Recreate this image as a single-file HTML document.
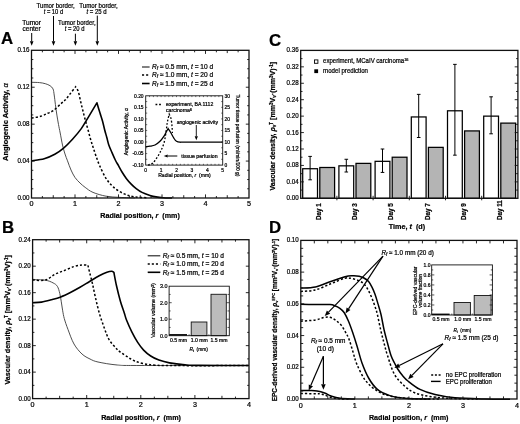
<!DOCTYPE html>
<html><head><meta charset="utf-8"><style>
html,body{margin:0;padding:0;background:#fff;}
svg{display:block; will-change:transform;}
text{font-family:"Liberation Sans", sans-serif; fill:#000; stroke:#000; stroke-width:0.22px;}
</style></head><body>
<svg width="520" height="424" viewBox="0 0 520 424">
<rect width="520" height="424" fill="#fff"/>
<path d="M31.50,82.30 C32.82,82.35 37.10,82.37 39.40,82.60 C41.70,82.83 43.53,83.18 45.30,83.70 C47.07,84.22 48.72,84.83 50.00,85.70 C51.28,86.57 52.30,87.35 53.00,88.90 C53.70,90.45 53.80,92.40 54.20,95.00 C54.60,97.60 54.95,101.15 55.40,104.50 C55.85,107.85 56.38,111.77 56.90,115.10 C57.42,118.43 57.95,121.52 58.50,124.50 C59.05,127.48 59.53,129.58 60.20,133.00 C60.87,136.42 61.70,141.50 62.50,145.00 C63.30,148.50 64.17,151.37 65.00,154.00 C65.83,156.63 66.50,158.13 67.50,160.80 C68.50,163.47 69.75,167.22 71.00,170.00 C72.25,172.78 73.50,175.33 75.00,177.50 C76.50,179.67 78.30,181.35 80.00,183.00 C81.70,184.65 83.03,185.83 85.20,187.40 C87.37,188.97 89.53,190.93 93.00,192.40 C96.47,193.87 101.50,195.37 106.00,196.20 C110.50,197.03 115.17,197.12 120.00,197.40 C124.83,197.68 132.50,197.82 135.00,197.90" fill="none" stroke="#3a3a3a" stroke-width="0.9"/>
<path d="M31.50,118.10 C33.02,117.80 37.90,117.10 40.60,116.30 C43.30,115.50 45.53,114.28 47.70,113.30 C49.87,112.32 51.43,111.97 53.60,110.40 C55.77,108.83 58.73,105.67 60.70,103.90 C62.67,102.13 63.83,101.47 65.40,99.80 C66.97,98.13 68.40,96.07 70.10,93.90 C71.80,91.73 74.68,87.98 75.60,86.80  C76.05,87.58 77.48,89.13 78.30,91.50 C79.12,93.87 79.78,98.00 80.50,101.00 C81.22,104.00 81.85,106.50 82.60,109.50 C83.35,112.50 84.13,115.75 85.00,119.00 C85.87,122.25 86.88,125.67 87.80,129.00 C88.72,132.33 89.63,136.00 90.50,139.00 C91.37,142.00 92.08,144.17 93.00,147.00 C93.92,149.83 94.92,152.95 96.00,156.00 C97.08,159.05 97.83,161.58 99.50,165.30 C101.17,169.02 103.62,174.62 106.00,178.30 C108.38,181.98 110.77,184.80 113.80,187.40 C116.83,190.00 120.75,192.33 124.20,193.90 C127.65,195.47 130.53,196.15 134.50,196.80 C138.47,197.45 145.75,197.63 148.00,197.80" fill="none" stroke="#000" stroke-width="1.5" stroke-dasharray="2.2 2"/>
<path d="M31.50,160.80 C33.62,160.45 40.32,159.78 44.20,158.70 C48.08,157.62 51.57,156.07 54.80,154.30 C58.03,152.53 60.65,150.62 63.60,148.10 C66.55,145.58 69.55,142.45 72.50,139.20 C75.45,135.95 78.65,132.28 81.30,128.60 C83.95,124.92 85.80,121.40 88.40,117.10 C91.00,112.80 95.48,105.18 96.90,102.80  C97.42,104.58 99.07,109.98 100.00,113.00 C100.93,116.02 101.72,118.17 102.50,121.00 C103.28,123.83 103.98,127.25 104.70,130.00 C105.42,132.75 106.12,135.00 106.80,137.50 C107.48,140.00 107.93,142.48 108.80,145.00 C109.67,147.52 110.92,150.10 112.00,152.60 C113.08,155.10 114.22,157.82 115.30,160.00 C116.38,162.18 117.38,163.70 118.50,165.70 C119.62,167.70 120.70,169.88 122.00,172.00 C123.30,174.12 124.77,176.38 126.30,178.40 C127.83,180.42 129.55,182.40 131.20,184.10 C132.85,185.80 134.40,187.22 136.20,188.60 C138.00,189.98 139.70,191.27 142.00,192.40 C144.30,193.53 147.67,194.65 150.00,195.40 C152.33,196.15 153.83,196.52 156.00,196.90 C158.17,197.28 160.33,197.52 163.00,197.70 C165.67,197.88 170.50,197.95 172.00,198.00" fill="none" stroke="#000" stroke-width="1.6" stroke-linejoin="round"/>
<rect x="31.5" y="50.3" width="217.5" height="147.7" fill="none" stroke="#111" stroke-width="1.3"/>
<path d="M42.38,198.0 v-2.0 M64.12,198.0 v-2.0 M85.88,198.0 v-2.0 M107.62,198.0 v-2.0 M129.38,198.0 v-2.0 M151.12,198.0 v-2.0 M172.88,198.0 v-2.0 M194.62,198.0 v-2.0 M216.38,198.0 v-2.0 M238.12,198.0 v-2.0" stroke="#111" stroke-width="0.9" fill="none"/>
<path d="M42.38,50.3 v2.0 M64.12,50.3 v2.0 M85.88,50.3 v2.0 M107.62,50.3 v2.0 M129.38,50.3 v2.0 M151.12,50.3 v2.0 M172.88,50.3 v2.0 M194.62,50.3 v2.0 M216.38,50.3 v2.0 M238.12,50.3 v2.0" stroke="#111" stroke-width="0.9" fill="none"/>
<path d="M53.25,198.0 v-2.8 M96.75,198.0 v-2.8 M140.25,198.0 v-2.8 M183.75,198.0 v-2.8 M227.25,198.0 v-2.8" stroke="#111" stroke-width="0.9" fill="none"/>
<path d="M53.25,50.3 v2.8 M96.75,50.3 v2.8 M140.25,50.3 v2.8 M183.75,50.3 v2.8 M227.25,50.3 v2.8" stroke="#111" stroke-width="0.9" fill="none"/>
<path d="M75.00,198.0 v-3.6 M118.50,198.0 v-3.6 M162.00,198.0 v-3.6 M205.50,198.0 v-3.6" stroke="#111" stroke-width="0.9" fill="none"/>
<path d="M75.00,50.3 v3.6 M118.50,50.3 v3.6 M162.00,50.3 v3.6 M205.50,50.3 v3.6" stroke="#111" stroke-width="0.9" fill="none"/>
<path d="M31.5,188.77 h1.8 M31.5,179.54 h1.8 M31.5,170.31 h1.8 M31.5,151.84 h1.8 M31.5,142.61 h1.8 M31.5,133.38 h1.8 M31.5,114.92 h1.8 M31.5,105.69 h1.8 M31.5,96.46 h1.8 M31.5,77.99 h1.8 M31.5,68.76 h1.8 M31.5,59.53 h1.8" stroke="#111" stroke-width="0.9" fill="none"/>
<path d="M31.5,161.07 h3.2 M31.5,124.15 h3.2 M31.5,87.23 h3.2" stroke="#111" stroke-width="0.9" fill="none"/>
<path d="M249.0,188.77 h-1.8 M249.0,179.54 h-1.8 M249.0,170.31 h-1.8 M249.0,151.84 h-1.8 M249.0,142.61 h-1.8 M249.0,133.38 h-1.8 M249.0,114.92 h-1.8 M249.0,105.69 h-1.8 M249.0,96.46 h-1.8 M249.0,77.99 h-1.8 M249.0,68.76 h-1.8 M249.0,59.53 h-1.8" stroke="#111" stroke-width="0.9" fill="none"/>
<path d="M249.0,161.07 h-3.2 M249.0,124.15 h-3.2 M249.0,87.23 h-3.2" stroke="#111" stroke-width="0.9" fill="none"/>
<text x="29.5" y="200.0" font-size="7" text-anchor="end" font-weight="normal"  textLength="12.1" lengthAdjust="spacingAndGlyphs">0.00</text>
<text x="29.5" y="163.075" font-size="7" text-anchor="end" font-weight="normal"  textLength="12.1" lengthAdjust="spacingAndGlyphs">0.04</text>
<text x="29.5" y="126.15" font-size="7" text-anchor="end" font-weight="normal"  textLength="12.1" lengthAdjust="spacingAndGlyphs">0.08</text>
<text x="29.5" y="89.22500000000002" font-size="7" text-anchor="end" font-weight="normal"  textLength="12.1" lengthAdjust="spacingAndGlyphs">0.12</text>
<text x="29.5" y="52.30000000000001" font-size="7" text-anchor="end" font-weight="normal"  textLength="12.1" lengthAdjust="spacingAndGlyphs">0.16</text>
<text x="31.5" y="205.9" font-size="7.2" text-anchor="middle" font-weight="normal" >0</text>
<text x="75.0" y="205.9" font-size="7.2" text-anchor="middle" font-weight="normal" >1</text>
<text x="118.5" y="205.9" font-size="7.2" text-anchor="middle" font-weight="normal" >2</text>
<text x="162.0" y="205.9" font-size="7.2" text-anchor="middle" font-weight="normal" >3</text>
<text x="205.5" y="205.9" font-size="7.2" text-anchor="middle" font-weight="normal" >4</text>
<text x="249.0" y="205.9" font-size="7.2" text-anchor="middle" font-weight="normal" >5</text>
<text x="140.05" y="217.6" font-size="8.1" text-anchor="middle" font-weight="bold"  textLength="79.5" lengthAdjust="spacingAndGlyphs">Radial position, <tspan font-style="italic">r</tspan>&#160; (mm)</text>
<text x="8.0" y="122.15" font-size="7.6" text-anchor="middle" font-weight="bold" transform="rotate(-90 8.0 122.15)"  textLength="77.7" lengthAdjust="spacingAndGlyphs">Angiogenic Activity, <tspan font-weight="normal" font-style="italic">α</tspan></text>
<path d="M142,67 H149.6" stroke="#1a1a1a" stroke-width="1.1"/>
<text x="152" y="69.2" font-size="6.6" text-anchor="start" font-weight="normal" ><tspan font-style="italic">R</tspan><tspan font-size="4.6" dy="1.2" font-style="italic">f</tspan><tspan dy="-1.2"> ≈ 0.5 mm, </tspan><tspan font-style="italic">t</tspan> = 10 d</text>
<path d="M142,75 H149.6" stroke="#000" stroke-width="1.5" stroke-dasharray="2.1 2"/>
<text x="152" y="77.2" font-size="6.6" text-anchor="start" font-weight="normal" ><tspan font-style="italic">R</tspan><tspan font-size="4.6" dy="1.2" font-style="italic">f</tspan><tspan dy="-1.2"> ≈ 1.0 mm, </tspan><tspan font-style="italic">t</tspan> = 20 d</text>
<path d="M142,83.5 H149.6" stroke="#000" stroke-width="1.6"/>
<text x="152" y="85.7" font-size="6.6" text-anchor="start" font-weight="normal" ><tspan font-style="italic">R</tspan><tspan font-size="4.6" dy="1.2" font-style="italic">f</tspan><tspan dy="-1.2"> ≈ 1.5 mm, </tspan><tspan font-style="italic">t</tspan> = 25 d</text>
<text x="31.6" y="25.1" font-size="6.5" text-anchor="middle" font-weight="normal" >Tumor</text>
<text x="31.6" y="30.6" font-size="6.5" text-anchor="middle" font-weight="normal" >center</text>
<path d="M31.70,33.00 L31.70,41.30" stroke="#000" stroke-width="1.0" fill="none"/>
<path d="M31.70,45.80 L29.90,41.30 L33.50,41.30 Z" fill="#000"/>
<text x="55.6" y="7.8" font-size="6.5" text-anchor="middle" font-weight="normal"  textLength="38.2" lengthAdjust="spacingAndGlyphs">Tumor border,</text>
<text x="53.4" y="13.6" font-size="6.5" text-anchor="middle" font-weight="normal"  textLength="19.4" lengthAdjust="spacingAndGlyphs"><tspan font-style="italic">t</tspan> = 10 d</text>
<path d="M53.50,16.00 L53.50,41.30" stroke="#000" stroke-width="1.0" fill="none"/>
<path d="M53.50,45.80 L51.70,41.30 L55.30,41.30 Z" fill="#000"/>
<text x="76.8" y="25.2" font-size="6.5" text-anchor="middle" font-weight="normal"  textLength="37.6" lengthAdjust="spacingAndGlyphs">Tumor border,</text>
<text x="74.6" y="31.2" font-size="6.5" text-anchor="middle" font-weight="normal"  textLength="19.6" lengthAdjust="spacingAndGlyphs"><tspan font-style="italic">t</tspan> = 20 d</text>
<path d="M75.40,33.70 L75.40,41.30" stroke="#000" stroke-width="1.0" fill="none"/>
<path d="M75.40,45.80 L73.60,41.30 L77.20,41.30 Z" fill="#000"/>
<text x="98.5" y="8.1" font-size="6.5" text-anchor="middle" font-weight="normal"  textLength="38.5" lengthAdjust="spacingAndGlyphs">Tumor border,</text>
<text x="96.6" y="13.7" font-size="6.5" text-anchor="middle" font-weight="normal"  textLength="20.2" lengthAdjust="spacingAndGlyphs"><tspan font-style="italic">t</tspan> = 25 d</text>
<path d="M97.30,15.60 L97.30,41.30" stroke="#000" stroke-width="1.0" fill="none"/>
<path d="M97.30,45.80 L95.50,41.30 L99.10,41.30 Z" fill="#000"/>
<text x="1" y="44.4" font-size="16.8" text-anchor="start" font-weight="bold" >A</text>
<rect x="145.7" y="95.8" width="77.0" height="69.3" fill="#fff"/>
<path d="M145.70,146.60 C146.42,146.53 148.45,146.47 150.00,146.20 C151.55,145.93 153.33,145.82 155.00,145.00 C156.67,144.18 158.50,142.77 160.00,141.30 C161.50,139.83 162.92,137.83 164.00,136.20 C165.08,134.57 165.82,132.77 166.50,131.50 C167.18,130.23 167.83,129.08 168.10,128.60  C168.58,129.33 170.02,131.37 171.00,133.00 C171.98,134.63 173.08,137.02 174.00,138.40 C174.92,139.78 175.50,140.67 176.50,141.30 C177.50,141.93 178.58,142.07 180.00,142.20 C181.42,142.33 177.88,142.12 185.00,142.10 C192.12,142.08 216.42,142.10 222.70,142.10" fill="none" stroke="#000" stroke-width="1.3"/>
<path d="M148.00,165.00 C148.50,164.92 149.83,165.25 151.00,164.50 C152.17,163.75 153.50,162.50 155.00,160.50 C156.50,158.50 158.50,155.42 160.00,152.50 C161.50,149.58 163.00,146.42 164.00,143.00 C165.00,139.58 165.43,135.50 166.00,132.00 C166.57,128.50 166.87,124.97 167.40,122.00 C167.93,119.03 168.90,115.50 169.20,114.20  C169.50,114.92 170.53,116.53 171.00,118.50 C171.47,120.47 171.77,123.58 172.00,126.00 C172.23,128.42 172.33,131.83 172.40,133.00" fill="none" stroke="#000" stroke-width="1.3" stroke-dasharray="1.8 1.8"/>
<rect x="145.7" y="95.8" width="77.0" height="69.3" fill="none" stroke="#111" stroke-width="0.9"/>
<path d="M149.55,165.1 v-1.3 M153.40,165.1 v-1.3 M157.25,165.1 v-1.3 M161.10,165.1 v-1.3 M164.95,165.1 v-1.3 M168.80,165.1 v-1.3 M172.65,165.1 v-1.3 M176.50,165.1 v-1.3 M180.35,165.1 v-1.3 M184.20,165.1 v-1.3 M188.05,165.1 v-1.3 M191.90,165.1 v-1.3 M195.75,165.1 v-1.3 M199.60,165.1 v-1.3 M203.45,165.1 v-1.3 M207.30,165.1 v-1.3 M211.15,165.1 v-1.3 M215.00,165.1 v-1.3 M218.85,165.1 v-1.3" stroke="#111" stroke-width="0.6" fill="none"/>
<path d="M149.55,95.8 v1.3 M153.40,95.8 v1.3 M157.25,95.8 v1.3 M161.10,95.8 v1.3 M164.95,95.8 v1.3 M168.80,95.8 v1.3 M172.65,95.8 v1.3 M176.50,95.8 v1.3 M180.35,95.8 v1.3 M184.20,95.8 v1.3 M188.05,95.8 v1.3 M191.90,95.8 v1.3 M195.75,95.8 v1.3 M199.60,95.8 v1.3 M203.45,95.8 v1.3 M207.30,95.8 v1.3 M211.15,95.8 v1.3 M215.00,95.8 v1.3 M218.85,95.8 v1.3" stroke="#111" stroke-width="0.6" fill="none"/>
<path d="M145.7,159.32 h1.5 M145.7,153.55 h1.5 M145.7,147.77 h1.5 M145.7,142.00 h1.5 M145.7,136.22 h1.5 M145.7,130.45 h1.5 M145.7,124.67 h1.5 M145.7,118.90 h1.5 M145.7,113.12 h1.5 M145.7,107.35 h1.5 M145.7,101.57 h1.5" stroke="#111" stroke-width="0.6" fill="none"/>
<path d="M222.7,159.32 h-1.5 M222.7,153.55 h-1.5 M222.7,147.77 h-1.5 M222.7,142.00 h-1.5 M222.7,136.22 h-1.5 M222.7,130.45 h-1.5 M222.7,124.67 h-1.5 M222.7,118.90 h-1.5 M222.7,113.12 h-1.5 M222.7,107.35 h-1.5 M222.7,101.57 h-1.5" stroke="#111" stroke-width="0.6" fill="none"/>
<text x="143.6" y="166.79999999999998" font-size="4.9" text-anchor="end" font-weight="normal" >-0.10</text>
<text x="143.6" y="155.24999999999997" font-size="4.9" text-anchor="end" font-weight="normal" >-0.05</text>
<text x="143.6" y="143.7" font-size="4.9" text-anchor="end" font-weight="normal" >0.00</text>
<text x="143.6" y="132.14999999999998" font-size="4.9" text-anchor="end" font-weight="normal" >0.05</text>
<text x="143.6" y="120.6" font-size="4.9" text-anchor="end" font-weight="normal" >0.10</text>
<text x="143.6" y="109.05" font-size="4.9" text-anchor="end" font-weight="normal" >0.15</text>
<text x="143.6" y="97.49999999999999" font-size="4.9" text-anchor="end" font-weight="normal" >0.20</text>
<text x="224.6" y="166.79999999999998" font-size="4.9" text-anchor="start" font-weight="normal" >0</text>
<text x="224.6" y="155.24999999999997" font-size="4.9" text-anchor="start" font-weight="normal" >5</text>
<text x="224.6" y="143.7" font-size="4.9" text-anchor="start" font-weight="normal" >10</text>
<text x="224.6" y="132.14999999999998" font-size="4.9" text-anchor="start" font-weight="normal" >15</text>
<text x="224.6" y="120.6" font-size="4.9" text-anchor="start" font-weight="normal" >20</text>
<text x="224.6" y="109.05" font-size="4.9" text-anchor="start" font-weight="normal" >25</text>
<text x="224.6" y="97.49999999999999" font-size="4.9" text-anchor="start" font-weight="normal" >30</text>
<text x="145.7" y="171.9" font-size="4.9" text-anchor="middle" font-weight="normal" >0</text>
<text x="161.1" y="171.9" font-size="4.9" text-anchor="middle" font-weight="normal" >1</text>
<text x="176.5" y="171.9" font-size="4.9" text-anchor="middle" font-weight="normal" >2</text>
<text x="191.89999999999998" y="171.9" font-size="4.9" text-anchor="middle" font-weight="normal" >3</text>
<text x="207.29999999999998" y="171.9" font-size="4.9" text-anchor="middle" font-weight="normal" >4</text>
<text x="222.7" y="171.9" font-size="4.9" text-anchor="middle" font-weight="normal" >5</text>
<text x="184.5" y="177.2" font-size="5.1" text-anchor="middle" font-weight="normal" >Radial position, <tspan font-style="italic">r</tspan>&#160; (mm)</text>
<text x="128" y="131.7" font-size="4.9" text-anchor="middle" font-weight="normal" transform="rotate(-90 128 131.7)"  textLength="47" lengthAdjust="spacingAndGlyphs">Angiogenic Activity, <tspan font-style="italic">α</tspan></text>
<text x="236.4" y="135.4" font-size="5.1" text-anchor="middle" font-weight="normal" transform="rotate(90 236.4 135.4)"  textLength="81.8" lengthAdjust="spacingAndGlyphs">Tumor tissue perfusion (ml/min/100 g)</text>
<path d="M155.5,104.5 H162.5" stroke="#000" stroke-width="1.3" stroke-dasharray="1.8 1.8"/>
<text x="166" y="106.3" font-size="5.2" text-anchor="start" font-weight="normal" >experiment, BA 1112</text>
<text x="166" y="112.3" font-size="5.2" text-anchor="start" font-weight="normal" >carcinoma<tspan font-size="3.6" dy="-1.8">6</tspan></text>
<text x="176.7" y="124.1" font-size="5.05" text-anchor="start" font-weight="normal" >angiogenic activity</text>
<path d="M196.30,125.00 L196.30,136.20" stroke="#000" stroke-width="0.9" fill="none"/>
<path d="M196.30,140.20 L194.70,136.20 L197.90,136.20 Z" fill="#000"/>
<path d="M177.30,156.00 L167.70,156.00" stroke="#000" stroke-width="1.0" fill="none"/>
<path d="M163.70,156.00 L167.70,154.40 L167.70,157.60 Z" fill="#000"/>
<text x="181.3" y="157.9" font-size="5.2" text-anchor="start" font-weight="normal" >tissue perfusion</text>
<path d="M32.60,279.60 C34.73,279.70 41.98,279.65 45.40,280.20 C48.82,280.75 51.10,281.87 53.10,282.90 C55.10,283.93 56.28,284.63 57.40,286.40 C58.52,288.17 59.17,291.03 59.80,293.50 C60.43,295.97 60.72,298.32 61.20,301.20 C61.68,304.08 62.18,307.90 62.70,310.80 C63.22,313.70 63.42,315.48 64.30,318.60 C65.18,321.72 66.38,325.27 68.00,329.50 C69.62,333.73 71.67,339.92 74.00,344.00 C76.33,348.08 79.33,351.50 82.00,354.00 C84.67,356.50 87.33,357.67 90.00,359.00 C92.67,360.33 93.45,361.00 98.00,362.00 C102.55,363.00 110.30,364.42 117.30,365.00 C124.30,365.58 118.05,365.42 140.00,365.50 C161.95,365.58 230.83,365.50 249.00,365.50" fill="none" stroke="#3a3a3a" stroke-width="0.9"/>
<path d="M32.60,280.00 C34.73,280.00 41.67,280.97 45.40,280.00 C49.13,279.03 51.80,275.80 55.00,274.20 C58.20,272.60 61.40,271.68 64.60,270.40 C67.80,269.12 71.32,267.40 74.20,266.50 C77.08,265.60 79.62,265.22 81.90,265.00 C84.18,264.78 86.90,265.17 87.90,265.20 C88.18,266.38 88.83,269.20 89.60,272.30 C90.37,275.40 91.53,279.63 92.50,283.80 C93.47,287.97 94.28,292.48 95.40,297.30 C96.52,302.12 97.72,307.58 99.20,312.70 C100.68,317.82 102.67,323.53 104.30,328.00 C105.93,332.47 107.15,336.25 109.00,339.50 C110.85,342.75 113.57,345.45 115.40,347.50 C117.23,349.55 118.05,350.28 120.00,351.80 C121.95,353.32 124.73,355.12 127.10,356.60 C129.47,358.08 131.45,359.53 134.20,360.70 C136.95,361.87 140.07,362.85 143.60,363.60 C147.13,364.35 150.17,364.87 155.40,365.20 C160.63,365.53 159.40,365.53 175.00,365.60 C190.60,365.67 236.67,365.60 249.00,365.60" fill="none" stroke="#000" stroke-width="1.5" stroke-dasharray="2.2 2"/>
<path d="M32.60,302.70 C34.08,302.60 38.40,302.58 41.50,302.10 C44.60,301.62 47.98,300.67 51.20,299.80 C54.42,298.93 57.60,298.12 60.80,296.90 C64.00,295.68 67.20,294.10 70.40,292.50 C73.60,290.90 76.80,289.13 80.00,287.30 C83.20,285.47 86.40,283.42 89.60,281.50 C92.80,279.58 96.32,277.33 99.20,275.80 C102.08,274.27 104.82,273.05 106.90,272.30 C108.98,271.55 110.53,271.27 111.70,271.30 C112.87,271.33 113.53,272.30 113.90,272.50 C114.33,274.72 115.42,281.02 116.50,285.80 C117.58,290.58 119.12,296.72 120.40,301.20 C121.68,305.68 123.18,309.57 124.20,312.70 C125.22,315.83 125.23,316.82 126.50,320.00 C127.77,323.18 129.93,328.07 131.80,331.80 C133.67,335.53 135.73,339.35 137.70,342.40 C139.67,345.45 141.43,347.83 143.60,350.10 C145.77,352.37 148.15,354.33 150.70,356.00 C153.25,357.67 155.77,358.95 158.90,360.10 C162.03,361.25 165.15,362.12 169.50,362.90 C173.85,363.68 179.92,364.38 185.00,364.80 C190.08,365.22 189.33,365.28 200.00,365.40 C210.67,365.52 240.83,365.48 249.00,365.50" fill="none" stroke="#000" stroke-width="1.6"/>
<rect x="32.6" y="239.7" width="216.4" height="158.90000000000003" fill="none" stroke="#111" stroke-width="1.3"/>
<path d="M46.12,398.6 v-2.0 M73.18,398.6 v-2.0 M100.22,398.6 v-2.0 M127.28,398.6 v-2.0 M154.33,398.6 v-2.0 M181.38,398.6 v-2.0 M208.43,398.6 v-2.0 M235.47,398.6 v-2.0" stroke="#111" stroke-width="0.9" fill="none"/>
<path d="M46.12,239.7 v2.0 M73.18,239.7 v2.0 M100.22,239.7 v2.0 M127.28,239.7 v2.0 M154.33,239.7 v2.0 M181.38,239.7 v2.0 M208.43,239.7 v2.0 M235.47,239.7 v2.0" stroke="#111" stroke-width="0.9" fill="none"/>
<path d="M59.65,398.6 v-2.8 M113.75,398.6 v-2.8 M167.85,398.6 v-2.8 M221.95,398.6 v-2.8" stroke="#111" stroke-width="0.9" fill="none"/>
<path d="M59.65,239.7 v2.8 M113.75,239.7 v2.8 M167.85,239.7 v2.8 M221.95,239.7 v2.8" stroke="#111" stroke-width="0.9" fill="none"/>
<path d="M86.70,398.6 v-3.6 M140.80,398.6 v-3.6 M194.90,398.6 v-3.6" stroke="#111" stroke-width="0.9" fill="none"/>
<path d="M86.70,239.7 v3.6 M140.80,239.7 v3.6 M194.90,239.7 v3.6" stroke="#111" stroke-width="0.9" fill="none"/>
<path d="M32.6,385.36 h1.8 M32.6,358.88 h1.8 M32.6,332.39 h1.8 M32.6,305.91 h1.8 M32.6,279.43 h1.8 M32.6,252.94 h1.8" stroke="#111" stroke-width="0.9" fill="none"/>
<path d="M32.6,372.12 h3.2 M32.6,345.63 h3.2 M32.6,319.15 h3.2 M32.6,292.67 h3.2 M32.6,266.18 h3.2" stroke="#111" stroke-width="0.9" fill="none"/>
<path d="M249.0,385.36 h-1.8 M249.0,358.88 h-1.8 M249.0,332.39 h-1.8 M249.0,305.91 h-1.8 M249.0,279.43 h-1.8 M249.0,252.94 h-1.8" stroke="#111" stroke-width="0.9" fill="none"/>
<path d="M249.0,372.12 h-3.2 M249.0,345.63 h-3.2 M249.0,319.15 h-3.2 M249.0,292.67 h-3.2 M249.0,266.18 h-3.2" stroke="#111" stroke-width="0.9" fill="none"/>
<text x="30.6" y="400.6" font-size="7" text-anchor="end" font-weight="normal"  textLength="12.1" lengthAdjust="spacingAndGlyphs">0.00</text>
<text x="30.6" y="374.1166666666667" font-size="7" text-anchor="end" font-weight="normal"  textLength="12.1" lengthAdjust="spacingAndGlyphs">0.04</text>
<text x="30.6" y="347.6333333333333" font-size="7" text-anchor="end" font-weight="normal"  textLength="12.1" lengthAdjust="spacingAndGlyphs">0.08</text>
<text x="30.6" y="321.15" font-size="7" text-anchor="end" font-weight="normal"  textLength="12.1" lengthAdjust="spacingAndGlyphs">0.12</text>
<text x="30.6" y="294.66666666666663" font-size="7" text-anchor="end" font-weight="normal"  textLength="12.1" lengthAdjust="spacingAndGlyphs">0.16</text>
<text x="30.6" y="268.1833333333333" font-size="7" text-anchor="end" font-weight="normal"  textLength="12.1" lengthAdjust="spacingAndGlyphs">0.20</text>
<text x="30.6" y="241.7" font-size="7" text-anchor="end" font-weight="normal"  textLength="12.1" lengthAdjust="spacingAndGlyphs">0.24</text>
<text x="32.6" y="407.2" font-size="7.2" text-anchor="middle" font-weight="normal" >0</text>
<text x="86.7" y="407.2" font-size="7.2" text-anchor="middle" font-weight="normal" >1</text>
<text x="140.8" y="407.2" font-size="7.2" text-anchor="middle" font-weight="normal" >2</text>
<text x="194.9" y="407.2" font-size="7.2" text-anchor="middle" font-weight="normal" >3</text>
<text x="249.0" y="407.2" font-size="7.2" text-anchor="middle" font-weight="normal" >4</text>
<text x="141.1" y="420.0" font-size="8.1" text-anchor="middle" font-weight="bold"  textLength="79.8" lengthAdjust="spacingAndGlyphs">Radial position, <tspan font-style="italic">r</tspan>&#160; (mm)</text>
<text x="10.2" y="319.85" font-size="7.3" text-anchor="middle" font-weight="bold" transform="rotate(-90 10.2 319.85)"  textLength="129.5" lengthAdjust="spacingAndGlyphs">Vascular density, <tspan font-style="italic">ρ</tspan><tspan font-size="4.5" dy="1.2">v</tspan><tspan font-size="4.5" dy="-3">T</tspan><tspan dy="1.8"> [mm</tspan><tspan font-size="4.5" dy="-2">3</tspan><tspan dy="2">V</tspan><tspan font-size="4.5" dy="1.2">v</tspan><tspan dy="-1.2">·(mm</tspan><tspan font-size="4.5" dy="-2">3</tspan><tspan dy="2">V)</tspan><tspan font-size="4.5" dy="-2">-1</tspan><tspan dy="2">]</tspan></text>
<text x="2" y="233.2" font-size="16.8" text-anchor="start" font-weight="bold" >B</text>
<path d="M147.7,255.8 H160.3" stroke="#1a1a1a" stroke-width="1.1"/>
<text x="162.8" y="258.0" font-size="6.6" text-anchor="start" font-weight="normal" ><tspan font-style="italic">R</tspan><tspan font-size="4.6" dy="1.2" font-style="italic">f</tspan><tspan dy="-1.2"> ≈ 0.5 mm, </tspan><tspan font-style="italic">t</tspan> = 10 d</text>
<path d="M147.7,264 H160.3" stroke="#000" stroke-width="1.5" stroke-dasharray="2.1 2"/>
<text x="162.8" y="266.2" font-size="6.6" text-anchor="start" font-weight="normal" ><tspan font-style="italic">R</tspan><tspan font-size="4.6" dy="1.2" font-style="italic">f</tspan><tspan dy="-1.2"> ≈ 1.0 mm, </tspan><tspan font-style="italic">t</tspan> = 20 d</text>
<path d="M147.7,272.3 H160.3" stroke="#000" stroke-width="1.6"/>
<text x="162.8" y="274.5" font-size="6.6" text-anchor="start" font-weight="normal" ><tspan font-style="italic">R</tspan><tspan font-size="4.6" dy="1.2" font-style="italic">f</tspan><tspan dy="-1.2"> ≈ 1.5 mm, </tspan><tspan font-style="italic">t</tspan> = 25 d</text>
<rect x="169.1" y="286.2" width="60.20000000000002" height="49.5" fill="#fff"/>
<rect x="169.1" y="334.10" width="17.90" height="1.6" fill="#000"/>
<rect x="191.2" y="322.00" width="15.7" height="13.69" fill="#bcbcbc" stroke="#111" stroke-width="0.9"/>
<rect x="211" y="294.28" width="15.3" height="41.42" fill="#bcbcbc" stroke="#111" stroke-width="0.9"/>
<rect x="169.1" y="286.2" width="60.20000000000002" height="49.5" fill="none" stroke="#111" stroke-width="0.9"/>
<path d="M169.1,327.45 h1.5 M169.1,310.95 h1.5 M169.1,294.45 h1.5" stroke="#111" stroke-width="0.7" fill="none"/>
<path d="M229.3,327.45 h-1.8 M229.3,310.95 h-1.8 M229.3,294.45 h-1.8" stroke="#111" stroke-width="0.7" fill="none"/>
<path d="M169.1,319.20 h2.6 M169.1,302.70 h2.6" stroke="#111" stroke-width="0.7" fill="none"/>
<path d="M229.3,319.20 h-2.8 M229.3,302.70 h-2.8" stroke="#111" stroke-width="0.7" fill="none"/>
<path d="M189.10,335.7 v-1.5 M208.90,335.7 v-1.5" stroke="#111" stroke-width="0.6" fill="none"/>
<text x="167.6" y="337.59999999999997" font-size="5.4" text-anchor="end" font-weight="normal" >0.0</text>
<text x="167.6" y="321.09999999999997" font-size="5.4" text-anchor="end" font-weight="normal" >1.0</text>
<text x="167.6" y="304.59999999999997" font-size="5.4" text-anchor="end" font-weight="normal" >2.0</text>
<text x="167.6" y="288.09999999999997" font-size="5.4" text-anchor="end" font-weight="normal" >3.0</text>
<text x="178.4" y="342.0" font-size="5.1" text-anchor="middle" font-weight="normal" >0.5 mm</text>
<text x="199.2" y="342.0" font-size="5.1" text-anchor="middle" font-weight="normal" >1.0 mm</text>
<text x="219" y="342.0" font-size="5.1" text-anchor="middle" font-weight="normal" >1.5 mm</text>
<text x="198.7" y="351.4" font-size="5.1" text-anchor="middle" font-weight="normal"  textLength="18.6" lengthAdjust="spacingAndGlyphs"><tspan font-style="italic">R</tspan><tspan font-size="3.6" dy="1">t</tspan><tspan dy="-1">&#160; (mm)</tspan></text>
<text x="155" y="310.5" font-size="5.3" text-anchor="middle" font-weight="normal" transform="rotate(-90 155 310.5)" >Vascular volume (mm<tspan font-size="3.6" dy="-1.5">3</tspan><tspan dy="1.5">)</tspan></text>
<rect x="302.70" y="168.72" width="14.8" height="29.58" fill="#fff" stroke="#000" stroke-width="1.25"/>
<rect x="319.80" y="167.49" width="14.8" height="30.81" fill="#b4b4b4" stroke="#000" stroke-width="1.25"/>
<path d="M310.10,156.40 V179.81 M308.30,156.40 h3.6 M308.30,179.81 h3.6" stroke="#000" stroke-width="1.0" fill="none"/>
<rect x="338.90" y="165.84" width="14.8" height="32.46" fill="#fff" stroke="#000" stroke-width="1.25"/>
<rect x="356.00" y="163.38" width="14.8" height="34.92" fill="#b4b4b4" stroke="#000" stroke-width="1.25"/>
<path d="M346.30,159.27 V172.01 M344.50,159.27 h3.6 M344.50,172.01 h3.6" stroke="#000" stroke-width="1.0" fill="none"/>
<rect x="375.10" y="161.33" width="14.8" height="36.97" fill="#fff" stroke="#000" stroke-width="1.25"/>
<rect x="392.20" y="157.22" width="14.8" height="41.08" fill="#b4b4b4" stroke="#000" stroke-width="1.25"/>
<path d="M382.50,149.00 V172.42 M380.70,149.00 h3.6 M380.70,172.42 h3.6" stroke="#000" stroke-width="1.0" fill="none"/>
<rect x="411.30" y="116.95" width="14.8" height="81.35" fill="#fff" stroke="#000" stroke-width="1.25"/>
<rect x="428.40" y="147.36" width="14.8" height="50.94" fill="#b4b4b4" stroke="#000" stroke-width="1.25"/>
<path d="M418.70,94.36 V137.50 M416.90,94.36 h3.6 M416.90,137.50 h3.6" stroke="#000" stroke-width="1.0" fill="none"/>
<rect x="447.50" y="110.79" width="14.8" height="87.51" fill="#fff" stroke="#000" stroke-width="1.25"/>
<rect x="464.60" y="130.92" width="14.8" height="67.38" fill="#b4b4b4" stroke="#000" stroke-width="1.25"/>
<path d="M454.90,64.37 V155.16 M453.10,64.37 h3.6 M453.10,155.16 h3.6" stroke="#000" stroke-width="1.0" fill="none"/>
<rect x="483.70" y="116.13" width="14.8" height="82.17" fill="#fff" stroke="#000" stroke-width="1.25"/>
<rect x="500.80" y="123.12" width="14.8" height="75.18" fill="#b4b4b4" stroke="#000" stroke-width="1.25"/>
<path d="M491.10,96.82 V133.80 M489.30,96.82 h3.6 M489.30,133.80 h3.6" stroke="#000" stroke-width="1.0" fill="none"/>
<rect x="300.7" y="50.4" width="217.2" height="147.9" fill="none" stroke="#111" stroke-width="1.3"/>
<path d="M300.7,190.08 h1.8 M300.7,173.65 h1.8 M300.7,157.22 h1.8 M300.7,140.78 h1.8 M300.7,124.35 h1.8 M300.7,107.92 h1.8 M300.7,91.48 h1.8 M300.7,75.05 h1.8 M300.7,58.62 h1.8" stroke="#111" stroke-width="0.9" fill="none"/>
<path d="M300.7,181.87 h3.2 M300.7,165.43 h3.2 M300.7,149.00 h3.2 M300.7,132.57 h3.2 M300.7,116.13 h3.2 M300.7,99.70 h3.2 M300.7,83.27 h3.2 M300.7,66.83 h3.2" stroke="#111" stroke-width="0.9" fill="none"/>
<path d="M517.9,190.08 h-1.8 M517.9,173.65 h-1.8 M517.9,157.22 h-1.8 M517.9,140.78 h-1.8 M517.9,124.35 h-1.8 M517.9,107.92 h-1.8 M517.9,91.48 h-1.8 M517.9,75.05 h-1.8 M517.9,58.62 h-1.8" stroke="#111" stroke-width="0.9" fill="none"/>
<path d="M517.9,181.87 h-3.2 M517.9,165.43 h-3.2 M517.9,149.00 h-3.2 M517.9,132.57 h-3.2 M517.9,116.13 h-3.2 M517.9,99.70 h-3.2 M517.9,83.27 h-3.2 M517.9,66.83 h-3.2" stroke="#111" stroke-width="0.9" fill="none"/>
<path d="M336.90,200.3 v-4.5 M373.10,200.3 v-4.5 M409.30,200.3 v-4.5 M445.50,200.3 v-4.5 M481.70,200.3 v-4.5" stroke="#111" stroke-width="0.9" fill="none"/>
<text x="298.6" y="200.3" font-size="7" text-anchor="end" font-weight="normal"  textLength="12.1" lengthAdjust="spacingAndGlyphs">0.00</text>
<text x="298.6" y="183.86666666666667" font-size="7" text-anchor="end" font-weight="normal"  textLength="12.1" lengthAdjust="spacingAndGlyphs">0.04</text>
<text x="298.6" y="167.43333333333334" font-size="7" text-anchor="end" font-weight="normal"  textLength="12.1" lengthAdjust="spacingAndGlyphs">0.08</text>
<text x="298.6" y="151.0" font-size="7" text-anchor="end" font-weight="normal"  textLength="12.1" lengthAdjust="spacingAndGlyphs">0.12</text>
<text x="298.6" y="134.56666666666666" font-size="7" text-anchor="end" font-weight="normal"  textLength="12.1" lengthAdjust="spacingAndGlyphs">0.16</text>
<text x="298.6" y="118.13333333333334" font-size="7" text-anchor="end" font-weight="normal"  textLength="12.1" lengthAdjust="spacingAndGlyphs">0.20</text>
<text x="298.6" y="101.7" font-size="7" text-anchor="end" font-weight="normal"  textLength="12.1" lengthAdjust="spacingAndGlyphs">0.24</text>
<text x="298.6" y="85.26666666666665" font-size="7" text-anchor="end" font-weight="normal"  textLength="12.1" lengthAdjust="spacingAndGlyphs">0.28</text>
<text x="298.6" y="68.83333333333334" font-size="7" text-anchor="end" font-weight="normal"  textLength="12.1" lengthAdjust="spacingAndGlyphs">0.32</text>
<text x="298.6" y="52.400000000000006" font-size="7" text-anchor="end" font-weight="normal"  textLength="12.1" lengthAdjust="spacingAndGlyphs">0.36</text>
<text x="321.0" y="220.1" font-size="6.3" text-anchor="start" font-weight="bold" transform="rotate(-90 321.0 220.1)" >Day 1</text>
<text x="357.2" y="220.1" font-size="6.3" text-anchor="start" font-weight="bold" transform="rotate(-90 357.2 220.1)" >Day 3</text>
<text x="393.4" y="220.1" font-size="6.3" text-anchor="start" font-weight="bold" transform="rotate(-90 393.4 220.1)" >Day 5</text>
<text x="429.59999999999997" y="220.1" font-size="6.3" text-anchor="start" font-weight="bold" transform="rotate(-90 429.59999999999997 220.1)" >Day 7</text>
<text x="465.79999999999995" y="220.1" font-size="6.3" text-anchor="start" font-weight="bold" transform="rotate(-90 465.79999999999995 220.1)" >Day 9</text>
<text x="501.99999999999994" y="220.1" font-size="6.3" text-anchor="start" font-weight="bold" transform="rotate(-90 501.99999999999994 220.1)" >Day 11</text>
<text x="407" y="229.1" font-size="7.6" text-anchor="middle" font-weight="bold"  textLength="36.4" lengthAdjust="spacingAndGlyphs">Time, <tspan font-style="italic">t</tspan>&#160; (d)</text>
<text x="275" y="126.25" font-size="7.0" text-anchor="middle" font-weight="bold" transform="rotate(-90 275 126.25)"  textLength="128.7" lengthAdjust="spacingAndGlyphs">Vascular density, <tspan font-style="italic">ρ</tspan><tspan font-size="4.5" dy="1.2">v</tspan><tspan font-size="4.5" dy="-3">T</tspan><tspan dy="1.8"> [mm</tspan><tspan font-size="4.5" dy="-2">3</tspan><tspan dy="2">V</tspan><tspan font-size="4.5" dy="1.2">v</tspan><tspan dy="-1.2">·(mm</tspan><tspan font-size="4.5" dy="-2">3</tspan><tspan dy="2">V)</tspan><tspan font-size="4.5" dy="-2">-1</tspan><tspan dy="2">]</tspan></text>
<text x="269" y="45.6" font-size="16.8" text-anchor="start" font-weight="bold" >C</text>
<rect x="314.5" y="59.9" width="3.4" height="3.4" fill="#fff" stroke="#000" stroke-width="0.9"/>
<rect x="314.3" y="69.3" width="3.8" height="3.8" fill="#000"/>
<text x="323.1" y="63.3" font-size="6.6" text-anchor="start" font-weight="normal"  textLength="85.4" lengthAdjust="spacingAndGlyphs">experiment, MCaIV carcinoma<tspan font-size="4.3" dy="-2.2">16</tspan></text>
<text x="323.1" y="72.9" font-size="6.6" text-anchor="start" font-weight="normal"  textLength="44.9" lengthAdjust="spacingAndGlyphs">model prediction</text>
<path d="M300.80,288.00 C303.23,287.82 310.40,287.98 315.40,286.90 C320.40,285.82 325.87,283.18 330.80,281.50 C335.73,279.82 341.45,277.75 345.00,276.80 C348.55,275.85 349.73,275.90 352.10,275.80 C354.47,275.70 357.23,275.83 359.20,276.20 C361.17,276.57 362.33,277.12 363.90,278.00 C365.47,278.88 367.23,279.93 368.60,281.50 C369.97,283.07 371.02,285.23 372.10,287.40 C373.18,289.57 374.12,291.75 375.10,294.50 C376.08,297.25 377.02,300.57 378.00,303.90 C378.98,307.23 379.98,310.15 381.00,314.50 C382.02,318.85 383.02,325.25 384.10,330.00 C385.18,334.75 386.35,338.75 387.50,343.00 C388.65,347.25 389.83,352.17 391.00,355.50 C392.17,358.83 393.38,360.75 394.50,363.00 C395.62,365.25 396.37,366.92 397.70,369.00 C399.03,371.08 400.80,373.50 402.50,375.50 C404.20,377.50 404.98,378.68 407.90,381.00 C410.82,383.32 415.48,387.15 420.00,389.40 C424.52,391.65 429.17,393.10 435.00,394.50 C440.83,395.90 446.67,397.05 455.00,397.80 C463.33,398.55 475.83,398.77 485.00,399.00 C494.17,399.23 505.83,399.17 510.00,399.20" fill="none" stroke="#000" stroke-width="1.5"/>
<path d="M300.80,304.30 C303.17,304.33 310.97,304.45 315.00,304.50 C319.03,304.55 322.50,304.58 325.00,304.60 C327.50,304.62 328.47,304.45 330.00,304.60 C331.53,304.75 332.55,304.88 334.20,305.50 C335.85,306.12 338.25,307.13 339.90,308.30 C341.55,309.47 342.68,310.38 344.10,312.50 C345.52,314.62 346.98,317.70 348.40,321.00 C349.82,324.30 351.17,328.13 352.60,332.30 C354.03,336.47 355.43,340.88 357.00,346.00 C358.57,351.12 360.02,357.58 362.00,363.00 C363.98,368.42 366.33,374.10 368.90,378.50 C371.47,382.90 374.02,386.58 377.40,389.40 C380.78,392.22 384.68,393.93 389.20,395.40 C393.72,396.87 397.70,397.58 404.50,398.20 C411.30,398.82 425.75,398.95 430.00,399.10" fill="none" stroke="#000" stroke-width="1.5"/>
<path d="M300.80,390.40 C302.33,390.42 307.30,390.40 310.00,390.50 C312.70,390.60 314.57,390.58 317.00,391.00 C319.43,391.42 322.27,392.17 324.60,393.00 C326.93,393.83 328.43,395.12 331.00,396.00 C333.57,396.88 336.00,397.80 340.00,398.30 C344.00,398.80 352.50,398.88 355.00,399.00" fill="none" stroke="#000" stroke-width="1.5"/>
<path d="M300.80,291.50 C303.17,291.25 310.00,291.28 315.00,290.00 C320.00,288.72 325.80,285.77 330.80,283.80 C335.80,281.83 341.45,279.07 345.00,278.20 C348.55,277.33 349.73,278.15 352.10,278.60 C354.47,279.05 357.23,280.02 359.20,280.90 C361.17,281.78 362.53,282.62 363.90,283.90 C365.27,285.18 366.32,286.83 367.40,288.60 C368.48,290.37 369.42,292.33 370.40,294.50 C371.38,296.67 372.42,299.25 373.30,301.60 C374.18,303.95 375.02,306.45 375.70,308.60 C376.38,310.75 376.57,310.93 377.40,314.50 C378.23,318.07 379.60,325.25 380.70,330.00 C381.80,334.75 382.87,338.75 384.00,343.00 C385.13,347.25 385.78,350.32 387.50,355.50 C389.22,360.68 391.47,369.02 394.30,374.10 C397.13,379.18 401.10,382.88 404.50,386.00 C407.90,389.12 410.45,391.05 414.70,392.80 C418.95,394.55 424.12,395.57 430.00,396.50 C435.88,397.43 441.67,397.97 450.00,398.40 C458.33,398.83 475.00,398.98 480.00,399.10" fill="none" stroke="#000" stroke-width="1.5" stroke-dasharray="2.2 2"/>
<path d="M300.80,321.20 C303.27,320.98 311.73,320.52 315.60,319.90 C319.47,319.28 321.60,317.93 324.00,317.50 C326.40,317.07 328.05,316.83 330.00,317.30 C331.95,317.77 333.82,318.97 335.70,320.30 C337.58,321.63 339.65,323.30 341.30,325.30 C342.95,327.30 344.30,329.95 345.60,332.30 C346.90,334.65 347.87,336.12 349.10,339.40 C350.33,342.68 351.68,347.82 353.00,352.00 C354.32,356.18 354.92,359.75 357.00,364.50 C359.08,369.25 362.10,376.07 365.50,380.50 C368.90,384.93 373.15,388.48 377.40,391.10 C381.65,393.72 385.57,394.97 391.00,396.20 C396.43,397.43 401.83,398.02 410.00,398.50 C418.17,398.98 435.00,399.00 440.00,399.10" fill="none" stroke="#000" stroke-width="1.5" stroke-dasharray="2.2 2"/>
<path d="M300.80,393.60 C303.17,393.62 311.47,393.60 315.00,393.70 C318.53,393.80 319.33,393.58 322.00,394.20 C324.67,394.82 328.00,396.63 331.00,397.40 C334.00,398.17 336.83,398.53 340.00,398.80 C343.17,399.07 348.33,398.97 350.00,399.00" fill="none" stroke="#000" stroke-width="1.5" stroke-dasharray="2.2 2"/>
<rect x="300.8" y="240.4" width="216.2" height="158.6" fill="none" stroke="#111" stroke-width="1.3"/>
<path d="M314.31,399.0 v-2.6 M327.82,399.0 v-2.6 M341.34,399.0 v-2.6 M354.85,399.0 v-2.6 M368.36,399.0 v-2.6 M381.88,399.0 v-2.6 M395.39,399.0 v-2.6 M408.90,399.0 v-2.6 M422.41,399.0 v-2.6 M435.93,399.0 v-2.6 M449.44,399.0 v-2.6 M462.95,399.0 v-2.6 M476.46,399.0 v-2.6 M489.98,399.0 v-2.6 M503.49,399.0 v-2.6" stroke="#111" stroke-width="0.9" fill="none"/>
<path d="M314.31,240.4 v3.0 M327.82,240.4 v3.0 M341.34,240.4 v3.0 M354.85,240.4 v3.0 M368.36,240.4 v3.0 M381.88,240.4 v3.0 M395.39,240.4 v3.0 M408.90,240.4 v3.0 M422.41,240.4 v3.0 M435.93,240.4 v3.0 M449.44,240.4 v3.0 M462.95,240.4 v3.0 M476.46,240.4 v3.0 M489.98,240.4 v3.0 M503.49,240.4 v3.0" stroke="#111" stroke-width="0.9" fill="none"/>
<path d="M300.8,391.07 h2.4 M300.8,383.14 h2.4 M300.8,375.21 h2.4 M300.8,359.35 h2.4 M300.8,351.42 h2.4 M300.8,343.49 h2.4 M300.8,327.63 h2.4 M300.8,319.70 h2.4 M300.8,311.77 h2.4 M300.8,295.91 h2.4 M300.8,287.98 h2.4 M300.8,280.05 h2.4 M300.8,264.19 h2.4 M300.8,256.26 h2.4 M300.8,248.33 h2.4" stroke="#111" stroke-width="0.9" fill="none"/>
<path d="M300.8,367.28 h3.4 M300.8,335.56 h3.4 M300.8,303.84 h3.4 M300.8,272.12 h3.4" stroke="#111" stroke-width="0.9" fill="none"/>
<path d="M517.0,391.07 h-2.6 M517.0,383.14 h-2.6 M517.0,375.21 h-2.6 M517.0,359.35 h-2.6 M517.0,351.42 h-2.6 M517.0,343.49 h-2.6 M517.0,327.63 h-2.6 M517.0,319.70 h-2.6 M517.0,311.77 h-2.6 M517.0,295.91 h-2.6 M517.0,287.98 h-2.6 M517.0,280.05 h-2.6 M517.0,264.19 h-2.6 M517.0,256.26 h-2.6 M517.0,248.33 h-2.6" stroke="#111" stroke-width="0.9" fill="none"/>
<path d="M517.0,367.28 h-3.4 M517.0,335.56 h-3.4 M517.0,303.84 h-3.4 M517.0,272.12 h-3.4" stroke="#111" stroke-width="0.9" fill="none"/>
<text x="298.8" y="401.0" font-size="7" text-anchor="end" font-weight="normal"  textLength="12.1" lengthAdjust="spacingAndGlyphs">0.00</text>
<text x="298.8" y="369.28" font-size="7" text-anchor="end" font-weight="normal"  textLength="12.1" lengthAdjust="spacingAndGlyphs">0.02</text>
<text x="298.8" y="337.56" font-size="7" text-anchor="end" font-weight="normal"  textLength="12.1" lengthAdjust="spacingAndGlyphs">0.04</text>
<text x="298.8" y="305.84000000000003" font-size="7" text-anchor="end" font-weight="normal"  textLength="12.1" lengthAdjust="spacingAndGlyphs">0.06</text>
<text x="298.8" y="274.12" font-size="7" text-anchor="end" font-weight="normal"  textLength="12.1" lengthAdjust="spacingAndGlyphs">0.08</text>
<text x="298.8" y="242.4" font-size="7" text-anchor="end" font-weight="normal"  textLength="12.1" lengthAdjust="spacingAndGlyphs">0.10</text>
<text x="300.8" y="407.9" font-size="7.2" text-anchor="middle" font-weight="normal" >0</text>
<text x="354.85" y="407.9" font-size="7.2" text-anchor="middle" font-weight="normal" >1</text>
<text x="408.9" y="407.9" font-size="7.2" text-anchor="middle" font-weight="normal" >2</text>
<text x="462.95" y="407.9" font-size="7.2" text-anchor="middle" font-weight="normal" >3</text>
<text x="517.0" y="407.9" font-size="7.2" text-anchor="middle" font-weight="normal" >4</text>
<text x="408.7" y="420.2" font-size="8.1" text-anchor="middle" font-weight="bold"  textLength="79.6" lengthAdjust="spacingAndGlyphs">Radial position, <tspan font-style="italic">r</tspan>&#160; (mm)</text>
<text x="277.5" y="320.1" font-size="6.6" text-anchor="middle" font-weight="bold" transform="rotate(-90 277.5 320.1)"  textLength="162.4" lengthAdjust="spacingAndGlyphs">EPC-derived vascular density, <tspan font-style="italic">ρ</tspan><tspan font-size="3.8" dy="1">v</tspan><tspan font-size="3.8" dy="-3">EPC</tspan><tspan dy="2"> [mm</tspan><tspan font-size="3.8" dy="-2">3</tspan><tspan dy="2">V</tspan><tspan font-size="3.8" dy="1">v</tspan><tspan dy="-1">·(mm</tspan><tspan font-size="3.8" dy="-2">3</tspan><tspan dy="2">V)</tspan><tspan font-size="3.8" dy="-2">-1</tspan><tspan dy="2">]</tspan></text>
<text x="269" y="232.9" font-size="16.8" text-anchor="start" font-weight="bold" >D</text>
<text x="381.5" y="254.5" font-size="6.6" text-anchor="start" font-weight="normal"  textLength="52.3" lengthAdjust="spacingAndGlyphs"><tspan font-style="italic">R</tspan><tspan font-size="4.6" dy="1.2" font-style="italic">f</tspan><tspan dy="-1.2"> ≈ 1.0 mm (20 d)</tspan></text>
<path d="M383.00,256.20 L328.54,312.06" stroke="#000" stroke-width="1.2" fill="none"/>
<path d="M324.70,316.00 L326.89,310.46 L330.19,313.67 Z" fill="#000"/>
<path d="M383.00,256.20 L348.52,308.80" stroke="#000" stroke-width="1.2" fill="none"/>
<path d="M345.50,313.40 L346.59,307.54 L350.44,310.06 Z" fill="#000"/>
<text x="444.6" y="339.9" font-size="6.6" text-anchor="start" font-weight="normal"  textLength="53.9" lengthAdjust="spacingAndGlyphs"><tspan font-style="italic">R</tspan><tspan font-size="4.6" dy="1.2" font-style="italic">f</tspan><tspan dy="-1.2"> ≈ 1.5 mm (25 d)</tspan></text>
<path d="M443.00,343.80 L399.23,365.55" stroke="#000" stroke-width="1.2" fill="none"/>
<path d="M394.30,368.00 L398.20,363.49 L400.25,367.61 Z" fill="#000"/>
<path d="M443.00,343.80 L411.96,375.38" stroke="#000" stroke-width="1.2" fill="none"/>
<path d="M408.10,379.30 L410.32,373.77 L413.60,376.99 Z" fill="#000"/>
<text x="310.9" y="342.8" font-size="6.6" text-anchor="start" font-weight="normal"  textLength="34.6" lengthAdjust="spacingAndGlyphs"><tspan font-style="italic">R</tspan><tspan font-size="4.6" dy="1.2" font-style="italic">f</tspan><tspan dy="-1.2"> ≈ 0.5 mm</tspan></text>
<text x="325.3" y="351.4" font-size="6.6" text-anchor="middle" font-weight="normal" >(10 d)</text>
<path d="M323.40,356.20 L310.87,385.35" stroke="#000" stroke-width="1.2" fill="none"/>
<path d="M308.70,390.40 L308.76,384.44 L312.98,386.26 Z" fill="#000"/>
<path d="M323.40,356.20 L323.40,384.20" stroke="#000" stroke-width="1.2" fill="none"/>
<path d="M323.40,389.70 L321.10,384.20 L325.70,384.20 Z" fill="#000"/>
<path d="M431.2,375 H441" stroke="#000" stroke-width="1.4" stroke-dasharray="2 1.7"/>
<path d="M431,381.4 H440.6" stroke="#000" stroke-width="1.4"/>
<text x="445.8" y="377.3" font-size="6.6" text-anchor="start" font-weight="normal"  textLength="55.4" lengthAdjust="spacingAndGlyphs">no EPC proliferation</text>
<text x="445.8" y="383.6" font-size="6.6" text-anchor="start" font-weight="normal"  textLength="46.1" lengthAdjust="spacingAndGlyphs">EPC proliferation</text>
<rect x="431.7" y="264.9" width="60.69999999999999" height="50.10000000000002" fill="#fff"/>
<rect x="431.7" y="313.60" width="17.90" height="1.4" fill="#000"/>
<rect x="454" y="302.48" width="16.4" height="12.52" fill="#bcbcbc" stroke="#111" stroke-width="0.9"/>
<rect x="474.2" y="295.46" width="16.9" height="19.54" fill="#bcbcbc" stroke="#111" stroke-width="0.9"/>
<rect x="431.7" y="264.9" width="60.69999999999999" height="50.10000000000002" fill="none" stroke="#111" stroke-width="0.9"/>
<path d="M431.7,309.99 h1.5 M431.7,299.97 h1.5 M431.7,289.95 h1.5 M431.7,279.93 h1.5 M431.7,269.91 h1.5" stroke="#111" stroke-width="0.7" fill="none"/>
<path d="M492.4,309.99 h-1.6 M492.4,299.97 h-1.6 M492.4,289.95 h-1.6 M492.4,279.93 h-1.6 M492.4,269.91 h-1.6" stroke="#111" stroke-width="0.7" fill="none"/>
<path d="M431.7,304.98 h2.6 M431.7,294.96 h2.6 M431.7,284.94 h2.6 M431.7,274.92 h2.6" stroke="#111" stroke-width="0.7" fill="none"/>
<path d="M492.4,304.98 h-2.8 M492.4,294.96 h-2.8 M492.4,284.94 h-2.8 M492.4,274.92 h-2.8" stroke="#111" stroke-width="0.7" fill="none"/>
<path d="M451.80,315.0 v-1.5 M472.30,315.0 v-1.5" stroke="#111" stroke-width="0.6" fill="none"/>
<text x="430.5" y="316.8" font-size="5" text-anchor="end" font-weight="normal" >0.0</text>
<text x="430.5" y="306.78000000000003" font-size="5" text-anchor="end" font-weight="normal" >0.2</text>
<text x="430.5" y="296.76" font-size="5" text-anchor="end" font-weight="normal" >0.4</text>
<text x="430.5" y="286.74" font-size="5" text-anchor="end" font-weight="normal" >0.6</text>
<text x="430.5" y="276.71999999999997" font-size="5" text-anchor="end" font-weight="normal" >0.8</text>
<text x="430.5" y="266.7" font-size="5" text-anchor="end" font-weight="normal" >1.0</text>
<text x="441" y="321.2" font-size="5.1" text-anchor="middle" font-weight="normal" >0.5 mm</text>
<text x="462.8" y="321.2" font-size="5.1" text-anchor="middle" font-weight="normal" >1.0 mm</text>
<text x="483" y="321.2" font-size="5.1" text-anchor="middle" font-weight="normal" >1.5 mm</text>
<text x="462.4" y="331.5" font-size="5.3" text-anchor="middle" font-weight="normal"  textLength="18" lengthAdjust="spacingAndGlyphs"><tspan font-style="italic">R</tspan><tspan font-size="3.6" dy="1">t</tspan><tspan dy="-1">&#160; (mm)</tspan></text>
<text x="417.1" y="290.8" font-size="5.0" text-anchor="middle" font-weight="normal" transform="rotate(-90 417.1 290.8)" >EPC-derived vascular</text>
<text x="422.4" y="290.8" font-size="5.0" text-anchor="middle" font-weight="normal" transform="rotate(-90 422.4 290.8)" >volume fraction</text>
</svg>
</body></html>
